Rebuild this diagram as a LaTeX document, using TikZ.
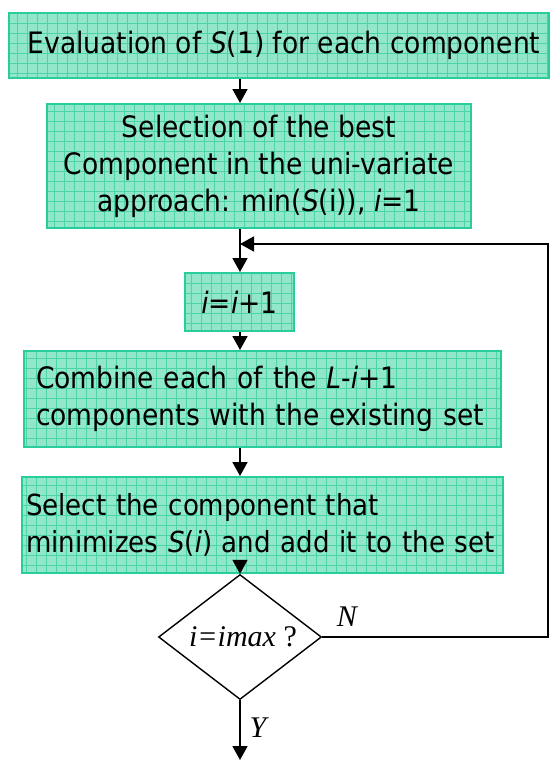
\documentclass[tikz,border=0pt]{standalone}
\usepackage{fontspec}
\setmainfont{DejaVu Sans Condensed}
\newfontfamily\serifit{Liberation Serif}
\usetikzlibrary{shapes.geometric,arrows.meta}
\definecolor{boxfill}{RGB}{146,230,202}
\definecolor{boxline}{RGB}{40,205,155}
\definecolor{gridline}{RGB}{75,212,168}
\begin{document}
\begin{tikzpicture}[x=1pt,y=-1pt,
  gbox/.style={draw=boxline, line width=2pt, fill=boxfill, inner sep=0pt,
    font=\fontsize{29.5}{37}\selectfont,
    path picture={\draw[gridline, line width=0.7pt] (path picture bounding box.north west) grid[step=10pt] (path picture bounding box.south east);}},
  conn/.style={line width=1.8pt, -{Triangle[length=14pt,width=15pt]}},
  lbl/.style={font=\serifit\itshape\fontsize{30}{32}\selectfont, inner sep=0pt}
]
\useasboundingbox (0,0) rectangle (551,761);

\node[gbox, minimum width=540pt, minimum height=65pt] (b1) at (279,45.5)
  {\hspace*{10pt}Evaluation of \textit{S}(1) for each component};
\node[gbox, minimum width=424pt, minimum height=124pt, align=center] (b2) at (259,166)
  {Selection of the best\\Component in the uni-variate\\approach: min(\textit{S}(i)), \textit{i}=1};
\node[gbox, minimum width=109pt, minimum height=58pt] (b3) at (239.5,302)
  {\textit{i}=\textit{i}+1};
\node[gbox, inner xsep=12pt, text width=453pt, minimum height=96pt, align=left] (b4) at (262.5,399)
  {\mbox{Combine each of the \textit{L}-\textit{i}+1}\\\mbox{components with the existing set}};
\node[gbox, inner xsep=4pt, text width=473pt, minimum height=96pt, align=left,
  font=\fontsize{29}{37}\selectfont] (b5) at (262.5,525)
  {\mbox{Select the component that}\\\mbox{minimizes \textit{S}(\textit{i}) and add it to the set}};

\node[diamond, aspect=1.3, draw, line width=1.4pt, minimum width=163pt, minimum height=125pt,
  inner sep=0pt, font=\serifit\fontsize{30}{32}\selectfont] (d) at (240,637) {\hspace*{6pt}\textit{i=imax} ?};

\node[lbl] (N) at (347,617) {N};
\node[lbl] (Y) at (258,728) {Y};

\coordinate (loop) at (548,244);
\coordinate (end) at (240,760);

\draw[conn] (b1.south -| d) -- (b2.north -| d);
\draw[conn] (b2.south -| d) -- (b3.north -| d);
\draw[conn] (b3.south -| d) -- (b4.north -| d);
\draw[conn] (b4.south -| d) -- (b5.north -| d);
\draw[conn] ([yshift=12pt]b5.south -| d) -- (d.north);
\draw[conn] (d.east) -- (d.east -| loop) -- (loop) -- (loop -| d);
\draw[conn] (d.south) -- (end);
\end{tikzpicture}
\end{document}
